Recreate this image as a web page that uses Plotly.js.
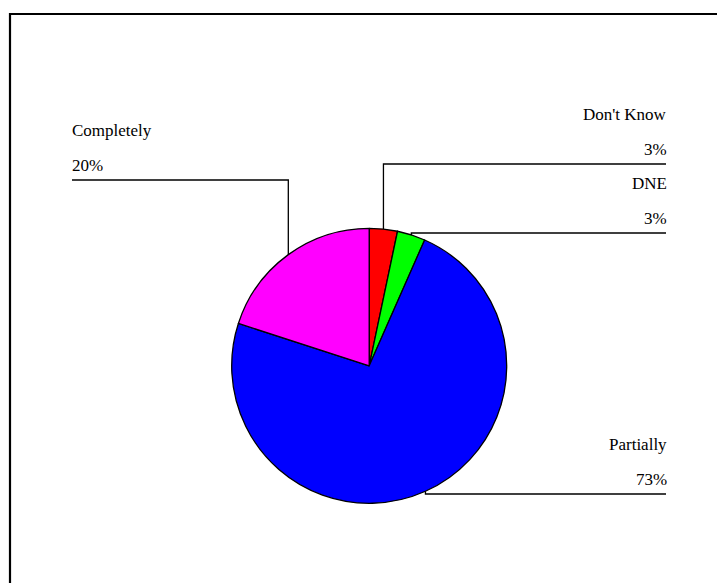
<!DOCTYPE html>
<html>
<head>
<meta charset="utf-8">
<script src="https://cdn.plot.ly/plotly-3.0.1.min.js"></script>
<style>html,body{margin:0;padding:0;background:#fff;}#chart{width:717px;height:583px;}</style>
</head>
<body>
<div id="chart"></div>
<script>
// Data
const categories = ["Don't Know", "DNE", "Partially", "Completely"];
const values = [3.3, 3.3, 73.3, 20.0];
const colors = ["#FF0000", "#00FF00", "#0000FF", "#FF00FF"];

// Layout (pixel geometry)
const W = 717, H = 583;
const CX = 369.2, CY = 365.8, R = 137.5;
const labelLineY = [164, 233, 494, 180];
const labelSide = ["right", "right", "right", "left"];
const RIGHT_X = 666, LEFT_X = 72;
const FONT = "Liberation Serif";

const px = x => x / W;
const py = y => 1 - y / H;

const total = values.reduce((a, b) => a + b, 0);
const shapes = [];
const annotations = [];
let cum = 0;
values.forEach((v, i) => {
  const mid = (cum + v / 2) / total * 2 * Math.PI;
  cum += v;
  const ex = CX + R * Math.sin(mid);
  const ey = CY - R * Math.cos(mid);
  const ly = labelLineY[i];
  const right = labelSide[i] === "right";
  const endX = right ? RIGHT_X : LEFT_X;
  shapes.push({type: "path", xref: "paper", yref: "paper",
    path: `M ${px(ex)},${py(ey)} L ${px(ex)},${py(ly)} L ${px(endX)},${py(ly)}`,
    line: {color: "#000", width: 1.3}});
  const pct = Math.round(v / total * 100) + "%";
  const tx = right ? endX + 3 : endX - 2;
  const anchor = right ? "right" : "left";
  annotations.push({xref: "paper", yref: "paper", x: px(tx), y: py(ly - 44 - 5.5),
    xanchor: anchor, yanchor: "middle", showarrow: false, text: categories[i],
    font: {family: FONT, size: 17, color: "#000"}});
  annotations.push({xref: "paper", yref: "paper", x: px(tx), y: py(ly - 9 - 5.5),
    xanchor: anchor, yanchor: "middle", showarrow: false, text: pct,
    font: {family: FONT, size: 17, color: "#000"}});
});

// Frame
shapes.push({type: "rect", xref: "paper", yref: "paper",
  x0: px(10), x1: px(730), y0: py(14), y1: py(600),
  line: {color: "#000", width: 2.2}});

const trace = {
  type: "pie",
  labels: categories,
  values: values,
  sort: false,
  direction: "clockwise",
  rotation: 0,
  textinfo: "none",
  hoverinfo: "label+percent",
  marker: {colors: colors, line: {color: "#000", width: 1.3}},
  domain: {x: [px(CX - R), px(CX + R)], y: [py(CY + R), py(CY - R)]},
  showlegend: false
};

const layout = {
  width: W, height: H,
  margin: {l: 0, r: 0, t: 0, b: 0},
  paper_bgcolor: "#fff",
  showlegend: false,
  shapes: shapes,
  annotations: annotations,
  font: {family: FONT}
};

Plotly.newPlot("chart", [trace], layout, {displayModeBar: false, staticPlot: true});
</script>
</body>
</html>
